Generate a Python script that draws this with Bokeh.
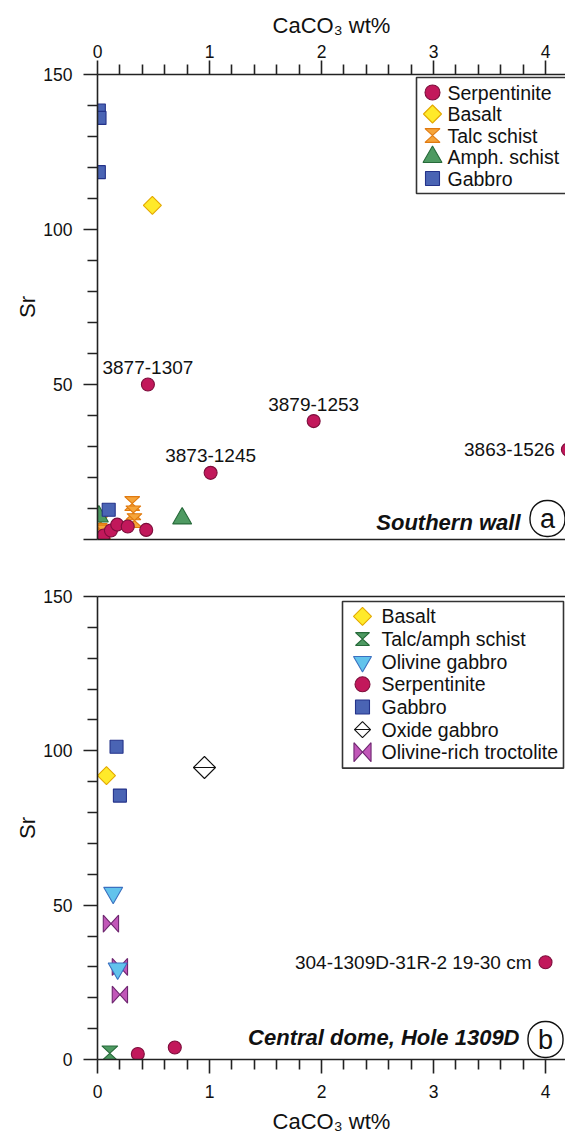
from bokeh.plotting import figure
from bokeh.models import (Range1d, LinearAxis, FixedTicker, Label, CustomJS, Scatter)
from bokeh.layouts import column
from bokeh.embed import file_html
from bokeh.resources import INLINE
from bokeh.core.properties import value

FONT = "Liberation Sans"

# ---------------- data: (a) Southern wall ----------------
a_serp_x = [0.45, 1.01, 1.93, 4.20, 0.055, 0.12, 0.176, 0.27, 0.435]
a_serp_y = [50.0, 21.5, 38.2, 29.0, 1.3, 2.9, 4.8, 4.2, 3.1]
a_basalt_x = [0.49]
a_basalt_y = [107.8]
a_talc_x = [0.31, 0.32, 0.33, 0.027, 0.02, 0.05]
a_talc_y = [11.6, 8.6, 6.1, 5.3, 2.9, 2.4]
a_amph_x = [0.012, 0.756]
a_amph_y = [7.4, 6.8]
a_gabbro_x = [0.012, 0.018, 0.012, 0.10]
a_gabbro_y = [138.4, 136.0, 118.5, 9.6]
a_lab_text = ["3877-1307", "3873-1245", "3879-1253"]
a_lab_x = [0.45, 1.01, 1.93]
a_lab_y = [50.0, 21.5, 38.2]
a_side_text = ["3863-1526"]
a_side_x = [4.20]
a_side_y = [29.0]
a_legend = ["Serpentinite", "Basalt", "Talc schist", "Amph. schist", "Gabbro"]

# ---------------- data: (b) Central dome, Hole 1309D ----------------
b_basalt_x = [0.08]
b_basalt_y = [92.0]
b_talc_x = [0.11]
b_talc_y = [2.0]
b_olg_x = [0.14, 0.18]
b_olg_y = [54.0, 29.5]
b_serp_x = [0.36, 0.69, 4.0]
b_serp_y = [1.8, 3.9, 31.5]
b_gabbro_x = [0.17, 0.20]
b_gabbro_y = [101.3, 85.5]
b_oxide_x = [0.955]
b_oxide_y = [94.6]
b_troc_x = [0.12, 0.20, 0.20]
b_troc_y = [44.0, 30.0, 21.0]
b_side_text = ["304-1309D-31R-2 19-30 cm"]
b_side_x = [4.0]
b_side_y = [31.5]
b_legend = ["Basalt", "Talc/amph schist", "Olivine gabbro", "Serpentinite", "Gabbro",
            "Oxide gabbro", "Olivine-rich troctolite"]

x_major = [0, 1, 2, 3, 4]
x_minor = [round(i * 0.2, 1) for i in range(1, 21) if i % 5 != 0]
y_major = [0, 50, 100, 150]
y_minor = [v for v in range(10, 150, 10) if v % 50 != 0]

# ---------------- custom markers ----------------
HOURGLASS = """
export default (args, obj, data) => {
  const {ctx, i, r, visuals} = data
  const h = r*0.92
  ctx.beginPath()
  ctx.moveTo(-r, -h); ctx.lineTo(r, -h); ctx.lineTo(-r, h); ctx.lineTo(r, h)
  ctx.closePath()
  visuals.fill.apply(ctx, i)
  visuals.line.apply(ctx, i)
}
"""
BOWTIE = """
export default (args, obj, data) => {
  const {ctx, i, r, visuals} = data
  const w = r*0.9
  ctx.beginPath()
  ctx.moveTo(-w, -r); ctx.lineTo(-w, r); ctx.lineTo(w, -r); ctx.lineTo(w, r)
  ctx.closePath()
  visuals.fill.apply(ctx, i)
  visuals.line.apply(ctx, i)
}
"""
RHOMBUS = """
export default (args, obj, data) => {
  const {ctx, i, r, visuals} = data
  ctx.beginPath()
  ctx.moveTo(0, -r); ctx.lineTo(r, 0); ctx.lineTo(0, r); ctx.lineTo(-r, 0)
  ctx.closePath()
  visuals.fill.apply(ctx, i)
  visuals.line.apply(ctx, i)
}
"""
RHOMBUS_H = """
export default (args, obj, data) => {
  const {ctx, i, r, visuals} = data
  ctx.beginPath()
  ctx.moveTo(0, -r); ctx.lineTo(r, 0); ctx.lineTo(0, r); ctx.lineTo(-r, 0)
  ctx.closePath()
  visuals.fill.apply(ctx, i)
  visuals.line.apply(ctx, i)
  ctx.beginPath()
  ctx.moveTo(-r, 0); ctx.lineTo(r, 0)
  visuals.line.apply(ctx, i)
}
"""

HAS_DEFS = "defs" in Scatter.properties()
if HAS_DEFS:
    DEFS = {"@hourglass": CustomJS(code=HOURGLASS), "@bowtie": CustomJS(code=BOWTIE),
            "@rhombus": CustomJS(code=RHOMBUS), "@rhombush": CustomJS(code=RHOMBUS_H)}
    M = {"hour": value("@hourglass"), "bow": value("@bowtie"),
         "rho": value("@rhombus"), "rhoh": value("@rhombush")}
else:
    DEFS = None
    M = {"hour": "triangle", "bow": "x", "rho": "diamond", "rhoh": "diamond_cross"}
CUSTOM = {"hour", "bow", "rho", "rhoh"}

C_SERP, L_SERP = "#C2185B", "#7E0E3C"
C_BAS, L_BAS = "#FFEA2A", "#E3A800"
C_TALC, L_TALC = "#F6A53A", "#E07A10"
C_AMPH, L_AMPH = "#4E9A62", "#276A3A"
C_GAB, L_GAB = "#4A64B4", "#24338A"
C_OLG, L_OLG = "#62C3EC", "#3A70C0"
C_TROC, L_TROC = "#C157B8", "#6E2670"
C_OX, L_OX = "white", "#111111"

# marker style per class: (marker key, fill, line)
STY = {
    "serp": ("circle", C_SERP, L_SERP),
    "bas": ("rho", C_BAS, L_BAS),
    "talc": ("hour", C_TALC, L_TALC),
    "amph": ("triangle", C_AMPH, L_AMPH),
    "gab": ("square", C_GAB, L_GAB),
    "talcb": ("hour", C_AMPH, L_AMPH),
    "olg": ("inverted_triangle", C_OLG, L_OLG),
    "ox": ("rhoh", C_OX, L_OX),
    "troc": ("bow", C_TROC, L_TROC),
}


def sc(p, x, y, key, size, **kw):
    mk, fill, line = STY[key]
    extra = {}
    if mk in CUSTOM:
        mk = M[mk]
        if DEFS is not None:
            extra["defs"] = DEFS
    return p.scatter(x=x, y=y, marker=mk, size=size, fill_color=fill,
                     line_color=line, line_width=1.1, **extra, **kw)


AX_COLOR = "#222222"


def style_axis(ax, ticks, minor):
    ax.ticker = FixedTicker(ticks=ticks, minor_ticks=minor)
    ax.axis_line_color = AX_COLOR
    ax.axis_line_width = 1.6
    ax.major_tick_line_color = AX_COLOR
    ax.major_tick_line_width = 1.6
    ax.minor_tick_line_color = AX_COLOR
    ax.minor_tick_line_width = 1.6
    ax.major_tick_in = 0
    ax.major_tick_out = 14
    ax.minor_tick_in = 0
    ax.minor_tick_out = 10
    ax.major_label_text_font = FONT
    ax.major_label_text_font_size = "17.5px"
    ax.major_label_text_color = "#111111"
    ax.axis_label_text_font = FONT
    ax.axis_label_text_font_style = "normal"
    ax.axis_label_text_font_size = "22px"
    ax.axis_label_text_color = "#111111"


def plain_line_axis(ax):
    ax.ticker = FixedTicker(ticks=[])
    ax.axis_line_color = AX_COLOR
    ax.axis_line_width = 1.6
    ax.major_tick_line_color = None
    ax.minor_tick_line_color = None
    ax.major_label_text_font_size = "0px"


FRAME_W = 565 - 97


def base_fig(height, top, bottom):
    frame_h = height - top - bottom
    p = figure(width=565, height=height, x_range=Range1d(0, FRAME_W / 112.0),
               y_range=Range1d(0, 150),
               output_backend="svg", toolbar_location=None,
               x_axis_location=None, y_axis_location=None,
               min_border_left=97, min_border_right=0,
               min_border_top=top, min_border_bottom=bottom)
    # pixel coordinate system inside the frame (x from left, y from top) for the key box
    p.extra_x_ranges = {"px": Range1d(0, FRAME_W)}
    p.extra_y_ranges = {"px": Range1d(frame_h, 0)}
    p.xgrid.visible = False
    p.ygrid.visible = False
    p.outline_line_color = None
    p.background_fill_color = "white"
    p.border_fill_color = "white"
    return p


def key_box(p, names, keys, sizes, left, right, top, bottom, first, pitch, gx, tx):
    p.quad(left=[left], right=[right], top=[top], bottom=[bottom],
           x_range_name="px", y_range_name="px",
           fill_color="white", line_color="#333333", line_width=1.6)
    ys = [first + k * pitch for k in range(len(names))]
    for k, key in enumerate(keys):
        sc(p, [gx], [ys[k]], key, sizes[k], x_range_name="px", y_range_name="px")
    p.text(x=[tx] * len(names), y=ys, text=names, x_range_name="px", y_range_name="px",
           text_align="left", text_baseline="middle", text_font=value(FONT),
           text_font_size="19.5px", text_color="#111111")


def circled(p, letter, x, y):
    lab = Label(x=x, y=y, x_units="screen", y_units="screen", text=letter,
                text_font=FONT, text_font_size="27px", text_align="center",
                text_baseline="middle", text_color="#111111",
                border_line_color="#111111", border_line_width=1.4)
    if "border_radius" in Label.properties():
        try:
            lab.padding = {"left": 10, "right": 10, "top": 3, "bottom": 3}
            lab.border_radius = 17
        except Exception:
            pass
    p.add_layout(lab)


# ======================= panel (a) =======================
pa = base_fig(560, 74, 21)
ax_top = LinearAxis(axis_label="CaCO₃ wt%")
style_axis(ax_top, x_major, x_minor)
ax_top.major_label_standoff = 3
ax_top.axis_label_standoff = 4
pa.add_layout(ax_top, "above")
ax_l = LinearAxis(axis_label="Sr")
style_axis(ax_l, y_major, y_minor)
ax_l.major_label_overrides = {0: ""}
ax_l.major_label_standoff = 11
ax_l.axis_label_standoff = 0
pa.add_layout(ax_l, "left")
ax_b = LinearAxis()
plain_line_axis(ax_b)
pa.add_layout(ax_b, "below")

sc(pa, a_talc_x, a_talc_y, "talc", 15)
sc(pa, a_amph_x, a_amph_y, "amph", 19)
sc(pa, a_gabbro_x, a_gabbro_y, "gab", 13)
sc(pa, a_basalt_x, a_basalt_y, "bas", 18)
sc(pa, a_serp_x, a_serp_y, "serp", 13)

pa.text(x=a_lab_x, y=a_lab_y, text=a_lab_text, y_offset=-17, text_align="center",
        text_baseline="middle", text_font=value(FONT), text_font_size="19px",
        text_color="#111111")
pa.text(x=a_side_x, y=a_side_y, text=a_side_text, x_offset=-13, text_align="right",
        text_baseline="middle", text_font=value(FONT), text_font_size="19px",
        text_color="#111111")

key_box(pa, a_legend, ["serp", "bas", "talc", "amph", "gab"], [15, 18, 15, 19, 14],
        left=319, right=FRAME_W + 12, top=3, bottom=119, first=18, pitch=21.5, gx=335, tx=350)

pa.add_layout(Label(x=423, y=17, x_units="screen", y_units="screen", text="Southern wall",
                    text_font=FONT, text_font_size="22px", text_font_style="bold italic",
                    text_align="right", text_baseline="middle", text_color="#111111"))
circled(pa, "a", 450, 21)

# ======================= panel (b) =======================
pb = base_fig(576, 36, 76)
bx_b = LinearAxis(axis_label="CaCO₃ wt%")
style_axis(bx_b, x_major, x_minor)
bx_b.major_label_standoff = 11
bx_b.axis_label_standoff = 8
pb.add_layout(bx_b, "below")
bx_l = LinearAxis(axis_label="Sr")
style_axis(bx_l, y_major, y_minor)
bx_l.major_label_standoff = 11
bx_l.axis_label_standoff = 0
pb.add_layout(bx_l, "left")
bx_t = LinearAxis()
plain_line_axis(bx_t)
pb.add_layout(bx_t, "above")

sc(pb, b_talc_x, b_talc_y, "talcb", 16)
sc(pb, b_troc_x, b_troc_y, "troc", 17)
sc(pb, b_olg_x, b_olg_y, "olg", 19)
sc(pb, b_gabbro_x, b_gabbro_y, "gab", 13)
sc(pb, b_basalt_x, b_basalt_y, "bas", 18)
sc(pb, b_oxide_x, b_oxide_y, "ox", 22)
sc(pb, b_serp_x, b_serp_y, "serp", 13)

pb.text(x=b_side_x, y=b_side_y, text=b_side_text, x_offset=-14, text_align="right",
        text_baseline="middle", text_font=value(FONT), text_font_size="19px",
        text_color="#111111")

key_box(pb, b_legend, ["bas", "talcb", "olg", "serp", "gab", "ox", "troc"],
        [18, 14, 18, 15, 14, 16, 19],
        left=245, right=466, top=5, bottom=172, first=20, pitch=22.67, gx=265, tx=284)

pb.add_layout(Label(x=422, y=22, x_units="screen", y_units="screen",
                    text="Central dome, Hole 1309D",
                    text_font=FONT, text_font_size="22px", text_font_style="bold italic",
                    text_align="right", text_baseline="middle", text_color="#111111"))
circled(pb, "b", 448, 20)

layout = column(pa, pb)
open("out.html", "w").write(file_html(layout, INLINE))
